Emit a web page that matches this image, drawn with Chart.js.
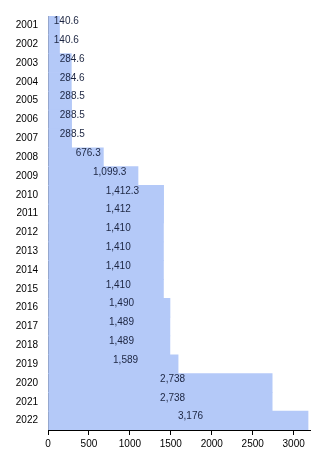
<!DOCTYPE html>
<html>
<head>
<meta charset="utf-8">
<script src="https://cdn.jsdelivr.net/npm/chart.js@4"></script>
<style>
  html, body { margin: 0; padding: 0; background: #fff; }
  #wrap { width: 320px; height: 451px; }
</style>
</head>
<body>
<div id="wrap"><canvas id="chart" width="320" height="451"></canvas></div>
<script>
let years = ["2001","2002","2003","2004","2005","2006","2007","2008","2009","2010","2011",
             "2012","2013","2014","2015","2016","2017","2018","2019","2020","2021","2022"];
let values = [140.6, 140.6, 284.6, 284.6, 288.5, 288.5, 288.5, 676.3, 1099.3, 1412.3, 1412,
              1410, 1410, 1410, 1410, 1490, 1489, 1489, 1589, 2738, 2738, 3176];
let xTicks = [0, 500, 1000, 1500, 2000, 2500, 3000];

let fmt = new Intl.NumberFormat("en-US", { maximumFractionDigits: 1 });
let font = { family: "'Liberation Sans', Arial, sans-serif", size: 10 };

// value labels start at the middle of each bar
let midLabels = {
  id: "midLabels",
  afterDatasetsDraw(chart) {
    let ctx = chart.ctx;
    let x = chart.scales.x, y = chart.scales.y;
    ctx.save();
    ctx.font = "10px 'Liberation Sans', Arial, sans-serif";
    ctx.fillStyle = "#1c2541";
    ctx.textAlign = "left";
    ctx.textBaseline = "middle";
    values.forEach((v, i) => {
      ctx.fillText(fmt.format(v), x.getPixelForValue(v / 2), y.getPixelForValue(i) - 4);
    });
    ctx.restore();
  }
};

new Chart(document.getElementById("chart"), {
  type: "bar",
  data: {
    labels: years,
    datasets: [{
      data: values,
      backgroundColor: "#b4c9f8",
      borderWidth: 0,
      barPercentage: 1,
      categoryPercentage: 1
    }]
  },
  options: {
    indexAxis: "y",
    responsive: false,
    animation: false,
    layout: { padding: { top: 10, right: 10, left: 0, bottom: 0 } },
    plugins: { legend: { display: false }, tooltip: { enabled: false } },
    scales: {
      x: {
        min: 0,
        max: 3200,
        afterBuildTicks: s => { s.ticks = xTicks.map(v => ({ value: v })); },
        grid: { drawOnChartArea: false, tickLength: 5, color: "#000" },
        border: { display: true, color: "#000", width: 1 },
        ticks: { color: "#000", font: font, padding: 3, maxRotation: 0, callback: v => String(v) },
        afterFit: s => { s.height = 21; }
      },
      y: {
        grid: { drawOnChartArea: false, drawTicks: false },
        border: { display: true, color: "#000", width: 1 },
        ticks: { color: "#000", font: font, padding: 10 },
        afterFit: s => { s.width = 48; }
      }
    }
  },
  plugins: [midLabels]
});
</script>
</body>
</html>
